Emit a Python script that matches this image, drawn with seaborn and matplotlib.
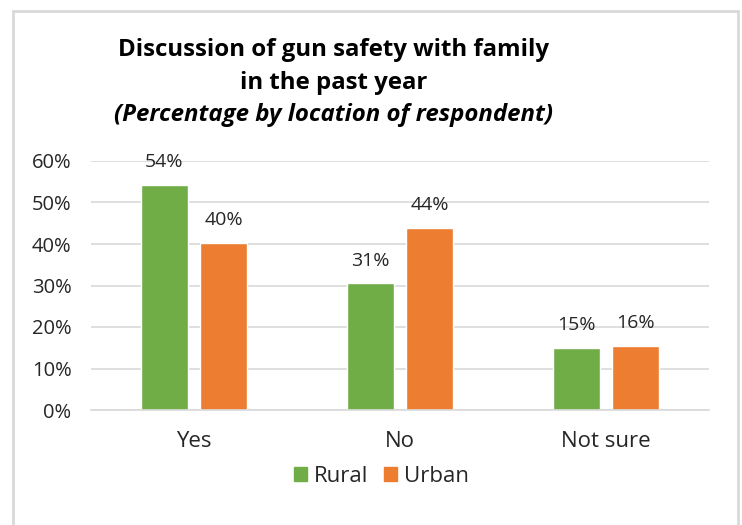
import matplotlib.pyplot as plt
import matplotlib.patches as mpatches
import pandas as pd
import seaborn as sns

# Survey answers and share of respondents (%) by location
answers = ["Yes", "No", "Not sure"]
rural = [54.3, 30.5, 14.9]
urban = [40.3, 43.8, 15.5]
rural_labels = ["54%", "31%", "15%"]
urban_labels = ["40%", "44%", "16%"]
locations = ["Rural", "Urban"]
colors = {"Rural": "#70AD47", "Urban": "#ED7D31"}

df = pd.DataFrame({
    "answer": answers * 2,
    "location": ["Rural"] * 3 + ["Urban"] * 3,
    "pct": rural + urban,
})

sns.set_style("white")
plt.rcParams["font.family"] = ["Open Sans", "DejaVu Sans"]

fig = plt.figure(figsize=(7.42, 5.25), dpi=100)
ax = fig.add_axes([91 / 742, 1 - 410 / 525, 618 / 742, 249 / 525])

sns.barplot(data=df, x="answer", y="pct", hue="location", order=answers,
            hue_order=locations, palette=colors, width=0.573, gap=0.22,
            saturation=1, legend=False, ax=ax)

# value labels
for container, labels in zip(ax.containers, [rural_labels, urban_labels]):
    ax.bar_label(container, labels=labels, padding=10, fontsize=14, color="#262626")

ax.set_ylim(0, 60)
ax.set_xlim(-0.5, 2.5)
ax.set_yticks(range(0, 61, 10))
ax.set_yticklabels([f"{v}%" for v in range(0, 61, 10)])
ax.yaxis.grid(True, color="#d9d9d9", linewidth=1.2)
ax.set_axisbelow(True)
for s in ["top", "right", "left"]:
    ax.spines[s].set_visible(False)
ax.spines["bottom"].set_color("#d9d9d9")
ax.spines["bottom"].set_linewidth(1.2)
ax.tick_params(axis="y", length=0, labelsize=14.5, labelcolor="#262626", pad=14)
ax.tick_params(axis="x", length=0, labelsize=16, labelcolor="#262626", pad=15)
ax.set_xlabel("")
ax.set_ylabel("")

# titles
title_kw = dict(ha="center", va="center", fontsize=17.3, fontweight="bold", color="#000000")
fig.text(334 / 742, 1 - 50 / 525, "Discussion of gun safety with family", **title_kw)
fig.text(334 / 742, 1 - 83 / 525, "in the past year", **title_kw)
fig.text(334 / 742, 1 - 115 / 525, "(Percentage by location of respondent)",
         style="italic", **title_kw)

# legend
handles = [mpatches.Patch(color=colors[k], label=k) for k in locations]
fig.legend(handles=handles, loc="center", bbox_to_anchor=(381.5 / 742, 1 - 476 / 525),
           ncol=2, frameon=False, fontsize=16, handlelength=0.6, handleheight=0.6,
           handletextpad=0.3, columnspacing=0.7)

# chart border
border = mpatches.Rectangle((13 / 742, -0.05), 725 / 742, 1.05 - 11 / 525,
                            transform=fig.transFigure, fill=False,
                            edgecolor="#d9d9d9", linewidth=2)
fig.patches.append(border)

fig.savefig("out.png", dpi=100)
